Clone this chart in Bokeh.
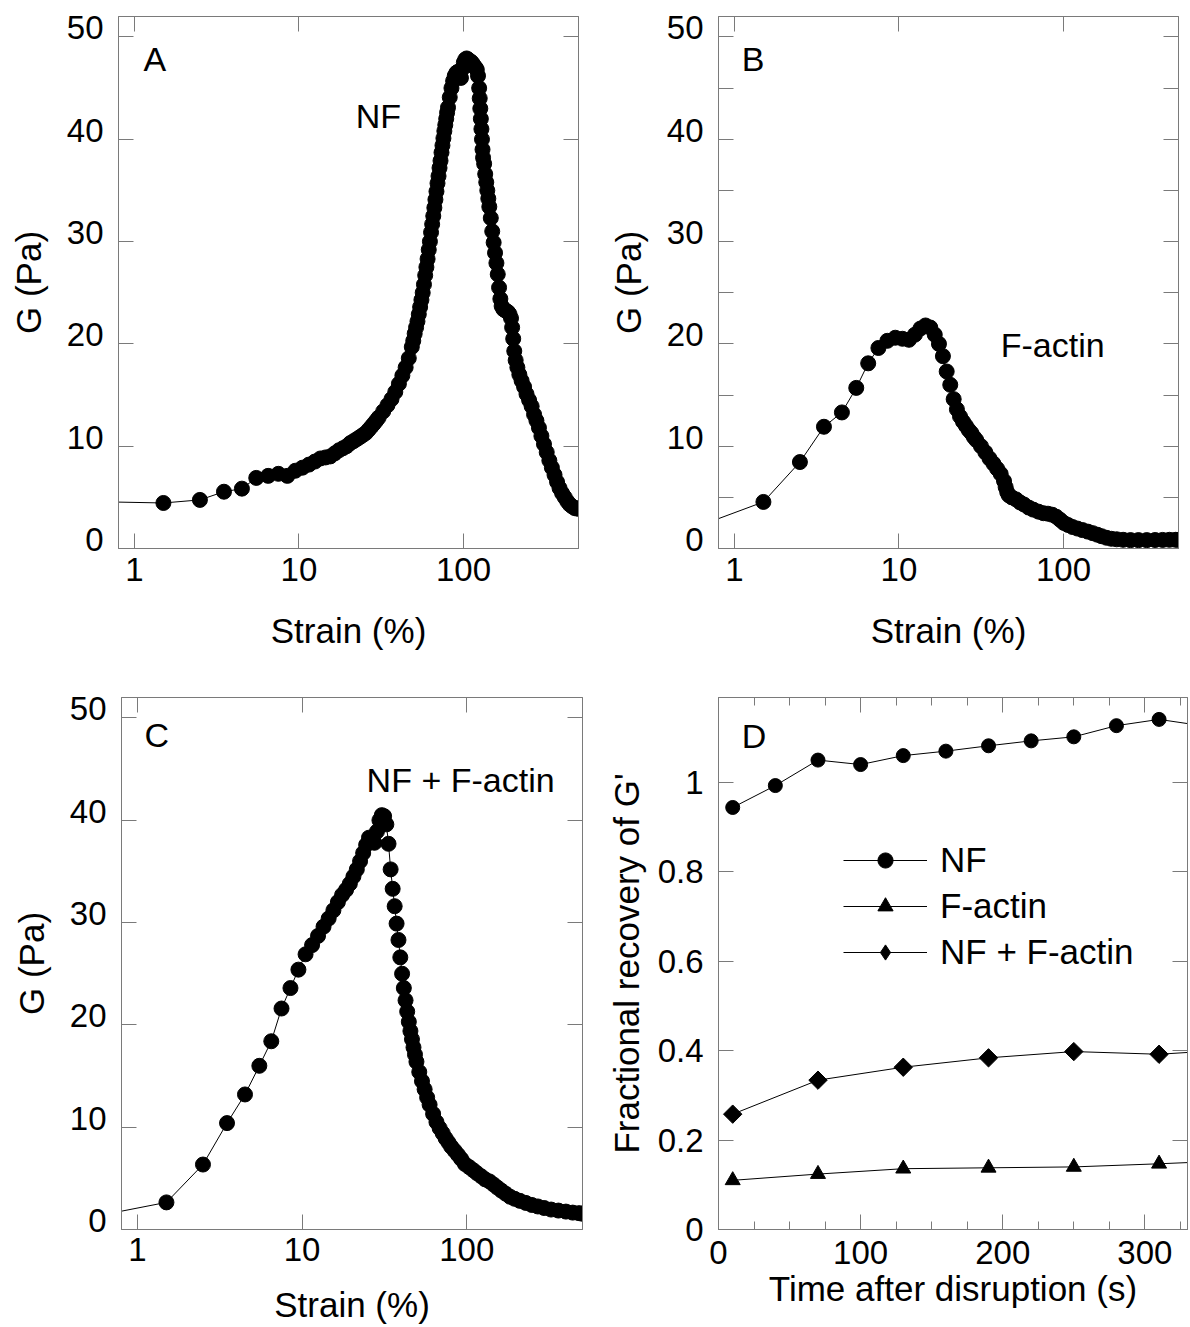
from bokeh.plotting import figure
from bokeh.models import (Range1d, FixedTicker, LinearAxis, LogAxis, Label, Legend,
                          LegendItem, BasicTickFormatter, CustomJSTickFormatter)
from bokeh.layouts import column, row
from bokeh.embed import file_html
from bokeh.resources import INLINE
import math

FONT = "Liberation Sans"
GRAY = "#7a7a7a"

# ---------------- data ----------------
# Panel A : NF
strain_A = [0.5, 1.5, 2.5, 3.5, 4.5, 5.5, 6.5, 7.5, 8.5, 9.5,
            10.5, 11.5, 12.5, 13.5, 14.5, 15.5, 16.5, 17.5, 18.5, 19.5,
            20.5, 21.5, 22.5, 23.5, 24.5, 25.5, 26.5, 27.5, 28.5, 29.5,
            30.5, 32.5, 34.5, 36.5, 38.5, 40.5, 42.5, 44.5, 46.5, 48.5,
            49.5, 50.5, 51.5, 52.5, 53.5, 54.5, 55.5, 56.5, 57.5, 58.5,
            59.5, 60.5, 61.5, 62.5, 63.5, 64.5, 65.5, 66.5, 67.5, 68.5,
            69.5, 70.5, 71.5, 72.5, 73.5, 74.5, 75.5, 76.5, 77.5, 78.5,
            79.5, 80.5, 82.5, 84.5, 86.5, 88.5, 90.5, 92.5, 94.5, 96.5,
            98.5, 100.5, 102.5, 104.5, 106.5, 108.5, 110.5, 112.5, 114.5, 116.5,
            118.5, 120.5, 122.5, 124.5, 125.5, 126.5, 127.5, 128.5, 129.5, 130.5,
            131.5, 133.5, 135.5, 137.5, 139.5, 141.5, 143.5, 146.5, 149.5, 152.5,
            155.5, 158.5, 161.5, 164.5, 167.5, 170.5, 174.5, 178.5, 182.5, 186.5,
            190.5, 194.5, 197.5, 200.5, 203.5, 207.5, 212.5, 218.5, 225.5, 233.5,
            241.5, 250.5, 259.5, 268.5, 277.5, 287.5, 297.5, 308.5, 320.5, 332.5,
            344.5, 357.5, 370.5, 383.5, 397.5, 412.5, 427.5, 442.5, 458.5, 474.5,
            490.5, 499.5, 600]
G_A = [4.6, 4.45, 4.75, 5.55, 5.85, 6.9, 7.1, 7.3, 7.1, 7.6,
       7.9, 8.2, 8.5, 8.8, 8.9, 9.0, 9.3, 9.6, 9.8, 10.0,
       10.3, 10.5, 10.7, 10.9, 11.1, 11.3, 11.6, 11.9, 12.2, 12.5,
       12.8, 13.4, 14.0, 14.6, 15.3, 16.1, 16.9, 17.7, 18.6, 19.7,
       20.3, 21.0, 21.6, 22.2, 22.9, 23.6, 24.3, 25.0, 25.8, 26.7,
       27.5, 28.3, 29.2, 30.0, 30.9, 31.7, 32.5, 33.3, 34.1, 34.9,
       35.7, 36.4, 37.2, 37.9, 38.7, 39.4, 40.1, 40.8, 41.4, 42.0,
       42.6, 43.1, 44.1, 45.0, 45.7, 46.2, 46.5, 46.6, 46.2, 46.0,
       46.9, 47.5, 47.8, 47.9, 47.8, 47.7, 47.6, 47.5, 47.3, 47.1,
       47.0, 46.8, 46.2, 45.0, 44.0, 43.0, 42.0, 41.0, 40.0, 39.0,
       38.2, 37.6, 36.6, 35.8, 35.0, 34.2, 33.4, 32.3, 31.0, 29.9,
       28.9, 27.9, 26.8, 25.5, 24.4, 23.7, 23.4, 23.3, 23.2, 23.1,
       22.9, 22.5, 21.6, 20.5, 19.3, 18.4, 17.7, 17.0, 16.4, 15.8,
       15.1, 14.5, 13.9, 13.1, 12.5, 11.8, 11.0, 10.2, 9.4, 8.6,
       7.9, 7.2, 6.5, 5.9, 5.4, 5.0, 4.6, 4.3, 4.1, 3.95,
       3.9, 3.9, 1.0]

# Panel B : F-actin
strain_B = [0.5, 1.5, 2.5, 3.5, 4.5, 5.5, 6.5, 7.5, 8.5, 9.5,
            10.5, 11.5, 12.5, 13.5, 14.5, 15.5, 16.5, 17.5, 18.5, 19.5,
            20.5, 21.5, 22.5, 23.5, 24.5, 25.5, 26.5, 27.5, 28.5, 29.5,
            31.5, 33.5, 35.5, 37.5, 39.5, 41.5, 43.5, 44.5, 45.5, 46.5,
            48.5, 51.5, 54.5, 57.5, 61.5, 65.5, 70.5, 75.5, 80.5, 85.5,
            90.5, 95.5, 100.5, 106.5, 113.5, 121.5, 130.5, 140.5, 150.5, 160.5,
            170.5, 182.5, 195.5, 210.5, 230.5, 255.5, 285.5, 320.5, 360.5, 400.5,
            440.5, 480.5, 499.5]
G_B = [1.7, 4.55, 8.45, 11.9, 13.3, 15.7, 18.1, 19.6, 20.3, 20.6,
       20.5, 20.4, 20.9, 21.5, 21.8, 21.6, 20.9, 20.0, 18.8, 17.3,
       16.0, 14.6, 13.6, 12.9, 12.4, 12.0, 11.6, 11.3, 10.9, 10.6,
       10.0, 9.4, 8.8, 8.3, 7.8, 7.3, 6.6, 6.0, 5.5, 5.2,
       5.0, 4.8, 4.5, 4.3, 4.0, 3.8, 3.6, 3.45, 3.4, 3.3,
       3.1, 2.8, 2.5, 2.3, 2.1, 1.95, 1.8, 1.65, 1.5, 1.35,
       1.2, 1.05, 0.95, 0.9, 0.85, 0.82, 0.82, 0.82, 0.83, 0.84,
       0.85, 0.85, 0.85]

# Panel C : NF + F-actin
strain_C = [0.5, 1.5, 2.5, 3.5, 4.5, 5.5, 6.5, 7.5, 8.5, 9.5,
            10.5, 11.5, 12.5, 13.5, 14.5, 15.5, 16.5, 17.5, 18.5, 19.5,
            20.5, 21.5, 22.5, 23.5, 24.5, 25.5, 26.5, 27.5, 28.5, 29.5,
            30.5, 31.5, 32.5, 33.5, 34.5, 35.5, 36.5, 37.5, 38.5, 39.5,
            40.5, 41.5, 42.5, 43.5, 44.5, 45.5, 46.5, 47.5, 48.5, 49.5,
            51.5, 53.5, 55.5, 57.5, 59.5, 62.5, 65.5, 68.5, 71.5, 74.5,
            77.5, 80.5, 84.5, 88.5, 92.5, 97.5, 103.5, 109.5, 115.5, 122.5,
            129.5, 137.5, 145.5, 153.5, 162.5, 172.5, 183.5, 195.5, 210.5, 228.5,
            248.5, 270.5, 295.5, 325.5, 360.5, 400.5, 440.5, 480.5, 499.5]
G_C = [1.15, 2.65, 6.35, 10.4, 13.2, 16.0, 18.4, 21.6, 23.6, 25.4,
       26.9, 27.8, 28.7, 29.6, 30.4, 31.2, 32.0, 32.7, 33.2, 33.8,
       34.5, 35.2, 36.0, 36.8, 37.6, 38.3, 38.2, 37.8, 38.9, 40.0,
       40.5, 40.4, 39.6, 37.7, 35.2, 33.3, 31.6, 29.9, 28.3, 26.6,
       25.0, 23.6, 22.4, 21.3, 20.3, 19.4, 18.6, 17.8, 17.1, 16.4,
       15.4, 14.5, 13.7, 12.9, 12.2, 11.3, 10.5, 9.9, 9.4, 8.9,
       8.5, 8.1, 7.7, 7.3, 6.9, 6.4, 6.1, 5.8, 5.5, 5.2,
       4.9, 4.7, 4.4, 4.1, 3.8, 3.5, 3.2, 3.0, 2.8, 2.6,
       2.4, 2.25, 2.1, 1.95, 1.85, 1.75, 1.65, 1.6, 1.55]

# Panel D : recovery
time_NF = [10, 40, 70, 100, 130, 160, 190, 220, 250, 280, 310, 340]
rec_NF = [0.944, 0.993, 1.050, 1.040, 1.060, 1.070, 1.082, 1.093, 1.102, 1.127, 1.141, 1.127]
time_FA = [10, 70, 130, 190, 250, 310, 370]
rec_FA = [0.110, 0.124, 0.136, 0.138, 0.140, 0.147, 0.155]
time_NFFA = [10, 70, 130, 190, 250, 310, 370]
rec_NFFA = [0.258, 0.334, 0.363, 0.384, 0.398, 0.392, 0.404]

strain_ticks = [1, 10, 100]
G_ticks = [0, 10, 20, 30, 40, 50]
G_minor_B = [5, 15, 25, 35, 45]
time_ticks = [0, 100, 200, 300]
time_minor = [25, 50, 75, 125, 150, 175, 225, 250, 275, 325]
rec_ticks = [0, 0.2, 0.4, 0.6, 0.8, 1]

G_MAX = 52
LABEL_LIFT = 0.88   # G units (~9 px): tick numbers sit a little above their ticks


# ---------------- helpers ----------------
def base_fig(width, height, borders, x_log, x_rng, y_rng):
    l, r, t, b = borders
    p = figure(width=width, height=height,
               x_axis_type="log" if x_log else "linear",
               x_range=Range1d(*x_rng), y_range=Range1d(*y_rng),
               min_border_left=l, min_border_right=r,
               min_border_top=t, min_border_bottom=b,
               output_backend="svg", toolbar_location=None, tools="")
    p.xgrid.visible = False
    p.ygrid.visible = False
    p.outline_line_color = GRAY
    p.outline_line_width = 1
    p.background_fill_color = "white"
    p.border_fill_color = "white"
    return p


def style(ax, ticks, minor=None, minor_len=15, show=True, fmt=None, standoff=4):
    ax.ticker = FixedTicker(ticks=ticks, minor_ticks=minor or [])
    ax.axis_line_color = GRAY
    ax.axis_line_width = 1
    ax.major_tick_line_color = GRAY
    ax.major_tick_in = 15
    ax.major_tick_out = 0
    if minor:
        ax.minor_tick_line_color = GRAY
        ax.minor_tick_in = minor_len
        ax.minor_tick_out = 0
    else:
        ax.minor_tick_line_color = None
    if show:
        ax.major_label_text_font = FONT
        ax.major_label_text_font_size = "33px"
        ax.major_label_text_color = "black"
        ax.major_label_standoff = standoff
        ax.formatter = fmt or BasicTickFormatter()
    else:
        ax.formatter = CustomJSTickFormatter(code="return '';")
        ax.major_label_text_font_size = "0px"
        ax.major_label_standoff = 0
    ax.axis_label_text_font = FONT
    ax.axis_label_text_font_size = "35px"
    ax.axis_label_text_font_style = "normal"
    ax.axis_label_text_color = "black"


def add_text(p, x, y, text):
    p.add_layout(Label(x=x, y=y, text=text, text_font=FONT, text_font_size="34px",
                       text_align="center", text_baseline="middle", text_color="black"))


def strain_panel(width, height, borders, x_rng, strain, g, y_minor,
                 letter, letter_xy, note, note_xy, tick_standoff, xlab_standoff):
    p = base_fig(width, height, borders, True, x_rng, (0, G_MAX))
    p.line(strain, g, line_color="black", line_width=1)
    p.scatter(strain, g, marker="circle", size=15, fill_color="black",
              line_color="black", line_width=1)
    bx = p.below[0]
    style(bx, strain_ticks, standoff=tick_standoff)
    bx.axis_label = "Strain (%)"
    bx.axis_label_standoff = xlab_standoff
    # left axis: tick marks only
    ly = p.left[0]
    style(ly, G_ticks, minor=y_minor, show=False)
    # numbers + title on a companion axis whose range is lifted slightly
    p.extra_y_ranges = {"lab": Range1d(-LABEL_LIFT, G_MAX - LABEL_LIFT)}
    lab = LinearAxis(y_range_name="lab")
    style(lab, G_ticks, standoff=15)
    lab.axis_line_color = None
    lab.major_tick_line_color = None
    lab.minor_tick_line_color = None
    lab.axis_label = "G (Pa)"
    lab.axis_label_standoff = 16
    p.add_layout(lab, "left")
    top = LogAxis()
    style(top, strain_ticks, show=False)
    p.add_layout(top, "above")
    right = LinearAxis()
    style(right, G_ticks, minor=y_minor, show=False)
    p.add_layout(right, "right")
    add_text(p, letter_xy[0], letter_xy[1], letter)
    add_text(p, note_xy[0], note_xy[1], note)
    return p


# ---------------- panels ----------------
pA = strain_panel(600, 652, (118, 22, 16, 104), (0.8, 500), strain_A, G_A, None,
                  "A", (1.33, 47.8), "NF", (30.4, 42.3), 9, 27)
pB = strain_panel(590, 652, (118, 12, 16, 104), (0.8, 500), strain_B, G_B, G_minor_B,
                  "B", (1.30, 47.8), "F-actin", (85.9, 19.9), 9, 27)
pC = strain_panel(600, 675, (121, 18, 45, 98), (0.8, 505), strain_C, G_C, None,
                  "C", (1.31, 48.3), "NF + F-actin", (91.8, 43.9), 8, 21)

pD = base_fig(590, 675, (118, 3, 45, 98), False, (0, 330), (0, 1.19))
lNF = pD.line(time_NF, rec_NF, line_color="black", line_width=1)
sNF = pD.scatter(time_NF, rec_NF, marker="circle", size=14, fill_color="black",
                 line_color="black", line_width=1)
lFA = pD.line(time_FA, rec_FA, line_color="black", line_width=1)
sFA = pD.scatter(time_FA, rec_FA, marker="triangle", size=15, fill_color="black",
                 line_color="black", line_width=1)
lNFFA = pD.line(time_NFFA, rec_NFFA, line_color="black", line_width=1)
# narrow diamonds (used for the legend key) lie fully under the square diamonds
sNFFA_key = pD.scatter(time_NFFA, rec_NFFA, marker="diamond", size=12,
                       fill_color="black", line_color="black", line_width=1)
sNFFA = pD.scatter(time_NFFA, rec_NFFA, marker="square", angle=math.pi / 4, size=13,
                   fill_color="black", line_color="black", line_width=1)

dx = pD.below[0]
style(dx, time_ticks, minor=time_minor, minor_len=8, standoff=11)
dx.axis_label = "Time after disruption (s)"
dx.axis_label_standoff = 2
dy = pD.left[0]
style(dy, rec_ticks, standoff=15,
      fmt=CustomJSTickFormatter(code="return tick.toString();"))
dy.axis_label = "Fractional recovery of G'"
dy.axis_label_standoff = 9
dtop = LinearAxis()
style(dtop, time_ticks, minor=time_minor, minor_len=8, show=False)
pD.add_layout(dtop, "above")
dright = LinearAxis()
style(dright, rec_ticks, show=False)
pD.add_layout(dright, "right")
add_text(pD, 25, 1.103, "D")

legend = Legend(items=[LegendItem(label="NF", renderers=[lNF, sNF]),
                       LegendItem(label="F-actin", renderers=[lFA, sFA]),
                       LegendItem(label="NF + F-actin", renderers=[lNFFA, sNFFA_key])],
                location=(125, 257), orientation="vertical",
                glyph_width=84, glyph_height=38, label_standoff=13, spacing=6,
                padding=0, margin=0, border_line_color=None,
                background_fill_alpha=0,
                label_text_font=FONT, label_text_font_size="35px",
                label_text_color="black")
pD.add_layout(legend)

layout = column(row(pA, pB), row(pC, pD))

open("out.html", "w").write(file_html(layout, INLINE))
